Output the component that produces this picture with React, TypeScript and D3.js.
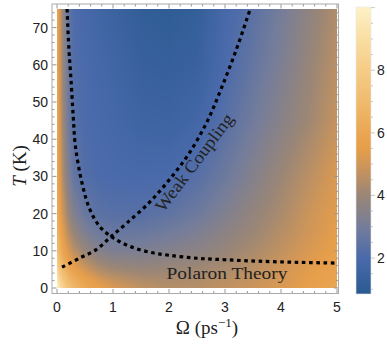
import React, { useMemo } from 'react';
import * as d3 from 'd3';

// grid (rows = T, columns = Omega)
const omegaGrid = [0, 0.05, 0.1, 0.2, 0.3, 0.5, 0.75, 1, 1.5, 2, 2.5, 3, 3.5, 4, 4.5, 5];
const tempGrid = [0, 2, 5, 10, 15, 20, 30, 45, 60, 75];
const heatRows = [
  [10.0, 9.2, 8.4, 7.4, 6.8, 6.1, 5.6, 5.2, 4.7, 4.5, 4.5, 4.7, 4.9, 5.2, 5.6, 6.0],
  [9.6, 8.5, 7.8, 6.9, 6.4, 5.8, 5.2, 4.8, 4.4, 4.3, 4.4, 4.6, 4.8, 5.1, 5.5, 5.9],
  [8.5, 7.6, 7.0, 6.2, 5.7, 5.0, 4.4, 4.1, 3.9, 4.0, 4.1, 4.3, 4.6, 5.0, 5.4, 5.8],
  [7.2, 6.6, 6.0, 5.2, 4.6, 3.9, 3.4, 3.2, 3.2, 3.4, 3.6, 3.9, 4.3, 4.7, 5.2, 5.6],
  [6.6, 6.1, 5.5, 4.5, 3.9, 3.2, 2.8, 2.7, 2.7, 2.9, 3.2, 3.6, 4.0, 4.5, 5.0, 5.5],
  [6.3, 5.7, 5.0, 4.0, 3.3, 2.7, 2.4, 2.3, 2.3, 2.5, 2.8, 3.3, 3.8, 4.3, 4.9, 5.4],
  [6.1, 5.3, 4.5, 3.3, 2.6, 2.2, 2.05, 2.0, 1.95, 2.0, 2.3, 2.8, 3.4, 4.0, 4.6, 5.2],
  [6.0, 5.1, 4.2, 2.9, 2.3, 2.05, 1.95, 1.85, 1.6, 1.55, 1.75, 2.3, 2.9, 3.5, 4.1, 4.8],
  [5.9, 5.0, 4.1, 2.7, 2.2, 2.0, 1.85, 1.7, 1.35, 1.25, 1.4, 2.0, 2.6, 3.2, 3.9, 4.6],
  [6.0, 5.0, 4.0, 2.6, 2.1, 1.9, 1.7, 1.5, 1.15, 1.05, 1.2, 1.9, 2.4, 3.0, 3.7, 4.4],
];

const polaronOmega = [0.18, 0.21, 0.25, 0.29, 0.33, 0.45, 0.59, 0.77, 1.0, 1.3, 1.66, 2.0, 2.5, 3.0, 3.6, 4.3, 5.0];
const polaronT = [75, 65, 56, 46, 38, 28, 21, 16.4, 13.5, 11.2, 9.6, 8.8, 8.0, 7.6, 7.2, 6.9, 6.7];
const weakOmega = [0.09, 0.4, 0.7, 0.95, 1.25, 1.65, 2.0, 2.35, 2.68, 2.93, 3.2, 3.45];
const weakT = [5.6, 8.0, 10.3, 13.6, 17.5, 23, 29, 36, 44.7, 53.5, 64, 75];

const xTicks = [0, 1, 2, 3, 4, 5];
const yTicks = [0, 10, 20, 30, 40, 50, 60, 70];
const barTicks = [2, 4, 6, 8];
const barRange = [0.85, 10.02];

const stopValues = [0.85, 2, 3, 4, 5, 5.5, 6, 7, 8, 9, 10.02];
const stopColors = ['#2a5a91', '#4a6aab', '#757d9a', '#9a8676', '#d09658', '#e69e4a', '#eaa653', '#f0bb6e', '#f5cc86', '#f9dea3', '#fdf2c6'];

const W = 387;
const H = 344;

const x = d3.scaleLinear().domain([0, 5]).range([57, 337]);
const y = d3.scaleLinear().domain([0, 75]).range([288, 9]);
const yBar = d3.scaleLinear().domain(barRange).range([294, 7]);
const color = d3.scaleLinear<string>().domain(stopValues).range(stopColors).interpolate(d3.interpolateRgb).clamp(true);

function valueAt(om: number, t: number) {
  const i = Math.max(0, Math.min(omegaGrid.length - 2, d3.bisectRight(omegaGrid, om) - 1));
  const j = Math.max(0, Math.min(tempGrid.length - 2, d3.bisectRight(tempGrid, t) - 1));
  const fx = Math.max(0, Math.min(1, (om - omegaGrid[i]) / (omegaGrid[i + 1] - omegaGrid[i])));
  const fy = Math.max(0, Math.min(1, (t - tempGrid[j]) / (tempGrid[j + 1] - tempGrid[j])));
  const a = heatRows[j][i], b = heatRows[j][i + 1];
  const c = heatRows[j + 1][i], d = heatRows[j + 1][i + 1];
  return (a * (1 - fx) + b * fx) * (1 - fy) + (c * (1 - fx) + d * fx) * fy;
}

function useHeatImage() {
  return useMemo(() => {
    const w = Math.round(x(5) - x(0));
    const h = Math.round(y(0) - y(75));
    const canvas = document.createElement('canvas');
    canvas.width = w;
    canvas.height = h;
    const ctx = canvas.getContext('2d');
    if (!ctx) return '';
    const img = ctx.createImageData(w, h);
    for (let py = 0; py < h; py++) {
      const t = y.invert(y(75) + py + 0.5);
      for (let px = 0; px < w; px++) {
        const om = x.invert(x(0) + px + 0.5);
        const c = d3.rgb(color(valueAt(om, t)));
        const k = (py * w + px) * 4;
        img.data[k] = c.r;
        img.data[k + 1] = c.g;
        img.data[k + 2] = c.b;
        img.data[k + 3] = 255;
      }
    }
    ctx.putImageData(img, 0, 0);
    return canvas.toDataURL();
  }, []);
}

export default function App() {
  const href = useHeatImage();
  const frame = { x0: 52, x1: 338.5, y0: 4, y1: 293.5 };
  const xMinor = d3.range(0, 5.01, 0.2);
  const yMinor = d3.range(0, 76, 2);
  const barMinor = d3.range(1, 10.01, 0.5);

  const curve = (om: number[], t: number[]) =>
    d3.line<number>().x((_, i) => x(om[i])).y((_, i) => y(t[i])).curve(d3.curveCatmullRom)(om.map((_, i) => i)) || '';

  const tickFont = "'Liberation Sans', Arial, sans-serif";
  const serif = "'Liberation Serif', 'Times New Roman', serif";

  return (
    <svg width={W} height={H} style={{ position: 'absolute', left: 0, top: 0 }}>
      <defs>
        <clipPath id="plotClip">
          <rect x={x(0)} y={y(75)} width={x(5) - x(0)} height={y(0) - y(75)} />
        </clipPath>
        <linearGradient id="barGrad" x1="0" y1="1" x2="0" y2="0">
          {stopValues.map((v, i) => (
            <stop key={i} offset={(v - barRange[0]) / (barRange[1] - barRange[0])} stopColor={stopColors[i]} />
          ))}
        </linearGradient>
      </defs>
      <rect width={W} height={H} fill="#fff" />
      <image href={href} x={x(0)} y={y(75)} width={x(5) - x(0)} height={y(0) - y(75)} preserveAspectRatio="none" />

      {/* frame ticks */}
      <g stroke="#999" strokeWidth={1}>
        {xMinor.map((v, i) => {
          const major = Math.abs(v - Math.round(v)) < 1e-6;
          const L = major ? 4.5 : 2.5;
          return (
            <g key={'x' + i}>
              <line x1={x(v)} x2={x(v)} y1={frame.y1} y2={frame.y1 - L} />
              <line x1={x(v)} x2={x(v)} y1={frame.y0} y2={frame.y0 + L} />
            </g>
          );
        })}
        {yMinor.map((v, i) => {
          const major = v % 10 === 0;
          const L = major ? 4.5 : 2.5;
          return (
            <g key={'y' + i}>
              <line x1={frame.x0} x2={frame.x0 + L} y1={y(v)} y2={y(v)} />
              <line x1={frame.x1} x2={frame.x1 - L} y1={y(v)} y2={y(v)} />
            </g>
          );
        })}
      </g>
      <rect x={frame.x0} y={frame.y0} width={frame.x1 - frame.x0} height={frame.y1 - frame.y0} fill="none" stroke="#aaa" strokeWidth={1} />

      {/* curves */}
      <g clipPath="url(#plotClip)" fill="none" stroke="#000" strokeWidth={3.2} strokeDasharray="3.6,3.6">
        <path d={curve(polaronOmega, polaronT)} />
        <path d={curve(weakOmega, weakT)} />
      </g>

      <text x={227} y={279} fontFamily={serif} fontSize={17.5} textLength={121} lengthAdjust="spacingAndGlyphs" textAnchor="middle" fill="#222">Polaron Theory</text>
      <text transform="translate(199,166) rotate(-53)" fontFamily={serif} fontSize={17.5} textLength={118} lengthAdjust="spacingAndGlyphs" textAnchor="middle" fill="#222">Weak Coupling</text>

      {/* tick labels */}
      <g fontFamily={tickFont} fontSize={14} fill="#222">
        {xTicks.map(v => (
          <text key={v} x={x(v)} y={312} textAnchor="middle">{v}</text>
        ))}
        {yTicks.map(v => (
          <text key={v} x={48} y={y(v) + 5} textAnchor="end">{v}</text>
        ))}
      </g>

      {/* axis labels */}
      <text x={207} y={334} fontFamily={serif} fontSize={19} textAnchor="middle" fill="#222">
        Ω (ps<tspan fontSize={13} dy={-7}>−1</tspan><tspan dy={7}>)</tspan>
      </text>
      <text transform="translate(26,166) rotate(-90)" fontFamily={serif} fontSize={19} textAnchor="middle" fill="#222">
        <tspan fontStyle="italic">T</tspan> (K)
      </text>

      {/* colour bar */}
      <rect x={356} y={yBar(barRange[1])} width={15} height={yBar(barRange[0]) - yBar(barRange[1])} fill="url(#barGrad)" stroke="#e6e6e6" strokeWidth={0.6} />
      <g stroke="#bbb" strokeWidth={0.8}>
        {barMinor.map((v, i) => (
          <line key={i} x1={371} x2={v % 2 === 0 ? 375 : 373} y1={yBar(v)} y2={yBar(v)} />
        ))}
      </g>
      <g fontFamily={tickFont} fontSize={14} fill="#222">
        {barTicks.map(v => (
          <text key={v} x={377} y={yBar(v) + 5}>{v}</text>
        ))}
      </g>
    </svg>
  );
}
